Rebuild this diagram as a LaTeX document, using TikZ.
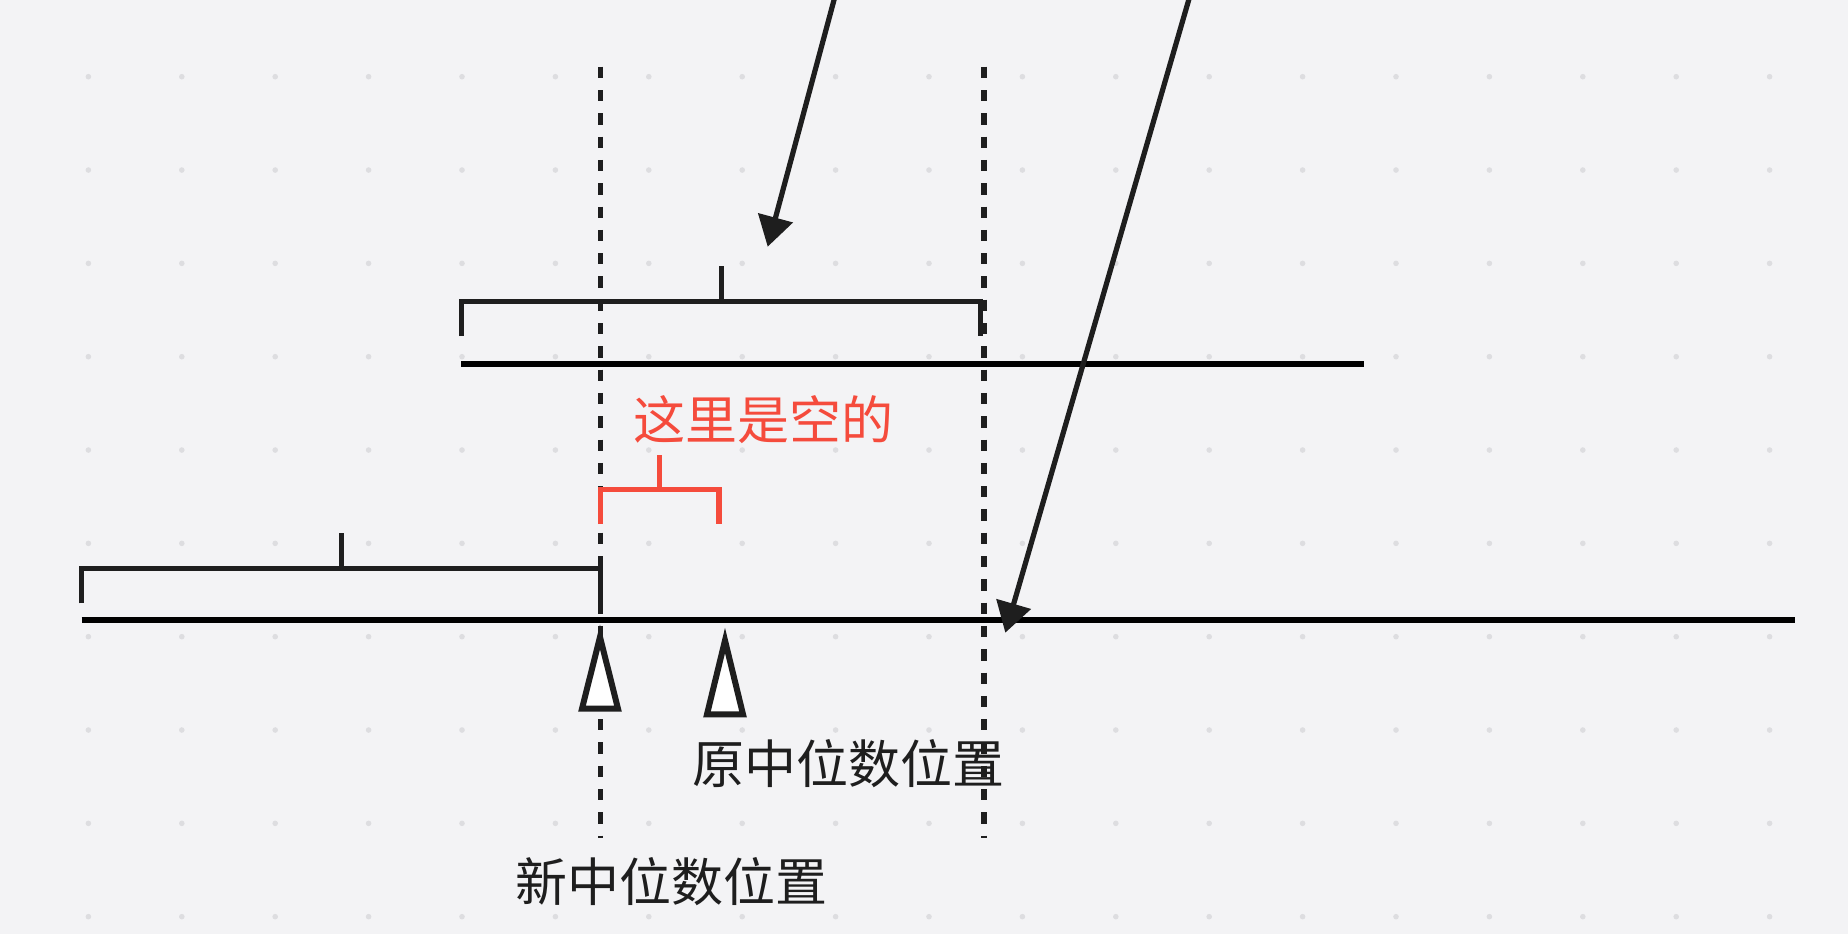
\documentclass[tikz,border=0pt]{standalone}
\usepackage{fontspec}
\newfontfamily\cjk{Noto Sans CJK SC}
\usetikzlibrary{arrows.meta}
\definecolor{bg}{HTML}{F3F3F5}
\definecolor{dotc}{HTML}{DDDDE0}
\definecolor{ink}{HTML}{1E1E1E}
\definecolor{redink}{HTML}{F54B3C}
\begin{document}
\begin{tikzpicture}[x=0.5pt,y=-0.5pt,
  guide/.style={draw=ink, line width=2.9pt, dash pattern=on 5.65pt off 6pt},
  bracket/.style={draw=ink, line width=2.5pt, line join=miter},
  redbracket/.style={draw=redink, line width=2.6pt, line join=miter},
  axis/.style={draw=black, line width=3.1pt},
  marker/.style={draw=ink, fill=white, line width=3pt, line join=miter},
  pointer/.style={draw=ink, line width=2.6pt, -{Triangle[length=15pt,width=17.5pt]}},
  txt/.style={inner sep=0pt, text=ink, font=\cjk\fontsize{26pt}{30pt}\selectfont},
  redtxt/.style={txt, text=redink}]
\fill[bg] (0,0) rectangle (1848,934);
\useasboundingbox (0,0) rectangle (1848,934);
% grid dots
\foreach \i in {0,...,18}
  \foreach \j in {0,...,9}
    \fill[dotc] (88.4+93.4*\i, 76.7+93.33*\j) circle[radius=1.4pt];
% guide lines
\coordinate (g1t) at (600.5,66.7);
\coordinate (g1b) at (600.5,838);
\coordinate (g2t) at (984,66.7);
\coordinate (g2b) at (984,838);
\draw[guide] (g1t) -- (g1b);
\draw[guide] (g2t) -- (g2b);
% upper bracket and line
\coordinate (ub1) at (461.8,336);
\coordinate (ub2) at (980,301.5);
\coordinate (ub3) at (980,336);
\coordinate (ubt) at (721,266);
\coordinate (ubm) at (721,301.5);
\draw[bracket] (ub1) |- (ub2) -- (ub3);
\draw[bracket] (ubt) -- (ubm);
\coordinate (ul1) at (461.4,364.3);
\coordinate (ul2) at (1363.7,364.3);
\draw[axis] (ul1) -- (ul2);
% red bracket
\coordinate (rb1) at (600.4,524);
\coordinate (rb2) at (719,489.3);
\coordinate (rb3) at (719,524);
\coordinate (rbt) at (659.7,455);
\coordinate (rbm) at (659.7,489.3);
\draw[redbracket] (rb1) |- (rb2) -- (rb3);
\draw[redbracket] (rbt) -- (rbm);
\node[redtxt] (empty) at (763,420) {这里是空的};
% lower bracket and line
\coordinate (lb1) at (81.7,603.3);
\coordinate (lb2) at (600.4,568.7);
\coordinate (lb3) at (600.4,612);
\coordinate (lbt) at (341,533.3);
\coordinate (lbm) at (341,568.7);
\draw[bracket] (lb1) |- (lb2) -- (lb3);
\draw[bracket] (lbt) -- (lbm);
\coordinate (ll1) at (81.7,620.3);
\coordinate (ll2) at (1794.8,620.3);
\draw[axis] (ll1) -- (ll2);
% markers
\draw[marker] (600,637) -- (582,708.7) -- (618,708.7) -- cycle;
\draw[marker] (725,640.5) -- (707,714.3) -- (743,714.3) -- cycle;
\node[txt] (orig) at (848.7,763.7) {原中位数位置};
\node[txt] (new) at (671.5,882) {新中位数位置};
% arrows
\coordinate (a1s) at (836.7,-10);
\coordinate (a1e) at (767.7,246.7);
\coordinate (a2s) at (1191.6,-10);
\coordinate (a2e) at (1005.3,632.7);
\draw[pointer] (a1s) -- (a1e);
\draw[pointer] (a2s) -- (a2e);
\end{tikzpicture}
\end{document}
